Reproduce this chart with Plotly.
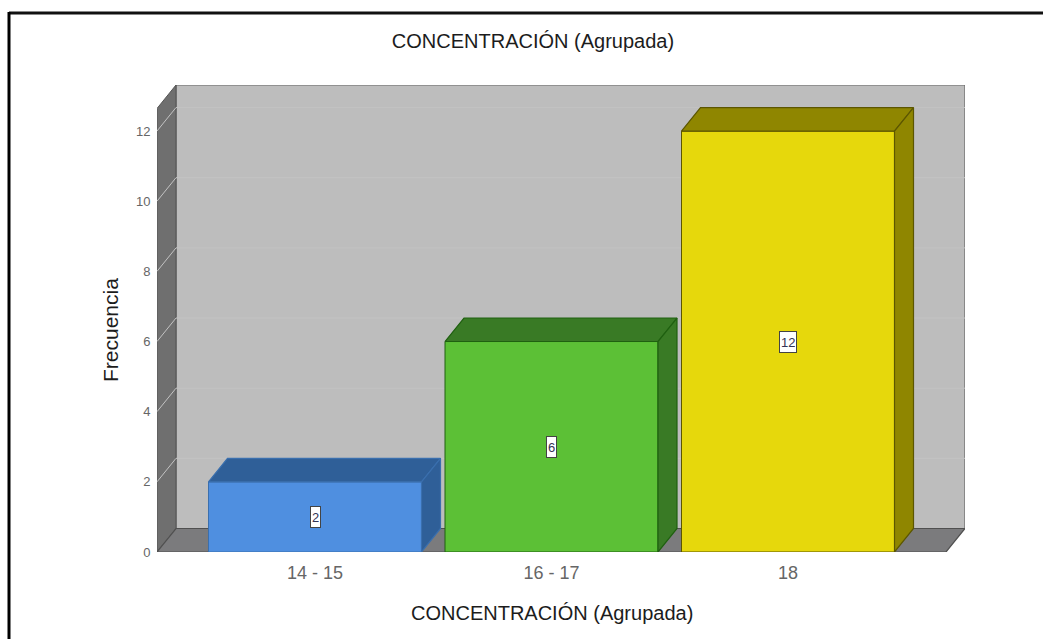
import plotly.graph_objects as go

CATEGORIES = ["14 - 15", "16 - 17", "18"]
VALUES = [2, 6, 12]
Y_TICKS = [0, 2, 4, 6, 8, 10, 12]
FRONT_COLORS = ["#4f8fe0", "#5cc036", "#e6d80c"]
SIDE_COLORS = ["#2f5f98", "#397a25", "#8f8600"]
EDGE_COLORS = ["#3a6fae", "#1f6010", "#5c5600"]
TITLE = "CONCENTRACIÓN (Agrupada)"
Y_TITLE = "Frecuencia"

W, H = 1043, 639
L, R, T, B = 157, 965, 85, 552
PX_X = 236.5
PX_Y = 35.08
X0_PX = 315
DX = 19 / PX_X
DY = 23.5 / PX_Y
BAR_W = 213 / PX_X
XMIN = (L - X0_PX) / PX_X
XMAX = (R - X0_PX) / PX_X
YMAX = (B - T) / PX_Y
X_FRONT_R = XMAX - DX
Y_TOP = YMAX - DY


def px(xp):
    return (xp - L) / (R - L)


def py(yp):
    return (B - yp) / (B - T)


def poly(xs, ys):
    return "M " + " L ".join(f"{x},{y}" for x, y in zip(xs, ys)) + " Z"


shapes = [
    # back wall
    dict(type="path", xref="x", yref="y", layer="below",
         path=poly([XMIN + DX, XMAX, XMAX, XMIN + DX], [DY, DY, YMAX, YMAX]),
         fillcolor="#bdbdbd", line=dict(color="#666666", width=1.2)),
    # left wall
    dict(type="path", xref="x", yref="y", layer="below",
         path=poly([XMIN, XMIN + DX, XMIN + DX, XMIN], [0, DY, YMAX, Y_TOP]),
         fillcolor="#6f6f6f", line=dict(color="#555555", width=1)),
    # floor
    dict(type="path", xref="x", yref="y", layer="below",
         path=poly([XMIN, X_FRONT_R, XMAX, XMIN + DX], [0, 0, DY, DY]),
         fillcolor="#7b7b7d", line=dict(color="#505050", width=1.2)),
    # page frame
    dict(type="line", xref="paper", yref="paper", x0=px(9), x1=px(W + 5), y0=py(13), y1=py(13),
         line=dict(color="#111111", width=3)),
    dict(type="line", xref="paper", yref="paper", x0=px(9), x1=px(9), y0=py(12), y1=py(H + 5),
         line=dict(color="#000000", width=3)),
]
# gridlines on walls
for v in Y_TICKS[1:]:
    shapes.append(dict(type="path", xref="x", yref="y", layer="below",
                       path=f"M {XMIN},{v} L {XMIN + DX},{v + DY} L {XMAX},{v + DY}",
                       line=dict(color="#c3c3c3", width=1)))

fig = go.Figure()
fig.add_trace(go.Bar(
    x=list(range(len(VALUES))), y=VALUES, width=BAR_W,
    marker=dict(color=FRONT_COLORS, line=dict(color=EDGE_COLORS, width=1)),
    showlegend=False, hoverinfo="skip",
))

annotations = [
    dict(text=Y_TITLE, x=px(110), y=py(330), xref="paper", yref="paper", showarrow=False,
         textangle=-90, xanchor="center", yanchor="middle",
         font=dict(family="Liberation Sans", size=21, color="#1c1c1c")),
    dict(text=TITLE, x=px(552), y=py(613), xref="paper", yref="paper", showarrow=False,
         xanchor="center", yanchor="middle",
         font=dict(family="Liberation Sans", size=20, color="#1c1c1c")),
]
hw = BAR_W / 2
for i, v in enumerate(VALUES):
    # top face
    fig.add_trace(go.Scatter(
        x=[i - hw, i + hw, i + hw + DX, i - hw + DX, i - hw],
        y=[v, v, v + DY, v + DY, v],
        mode="lines", fill="toself", fillcolor=SIDE_COLORS[i],
        line=dict(color=EDGE_COLORS[i], width=1.2),
        showlegend=False, hoverinfo="skip"))
    # right face
    fig.add_trace(go.Scatter(
        x=[i + hw, i + hw + DX, i + hw + DX, i + hw, i + hw],
        y=[0, DY, v + DY, v, 0],
        mode="lines", fill="toself", fillcolor=SIDE_COLORS[i],
        line=dict(color=EDGE_COLORS[i], width=1.2),
        showlegend=False, hoverinfo="skip"))
    annotations.append(dict(
        x=i, y=v / 2, xref="x", yref="y", text=str(v), showarrow=False,
        font=dict(family="Liberation Sans", size=13, color="#333355"),
        height=18, bgcolor="#ffffff", bordercolor="#444444", borderwidth=1, borderpad=1))

fig.update_layout(
    width=W, height=H,
    autosize=False,
    margin=dict(l=L, r=W - R, t=T, b=H - B, pad=0),
    paper_bgcolor="#ffffff",
    plot_bgcolor="rgba(0,0,0,0)",
    shapes=shapes,
    annotations=annotations,
    title=dict(text=TITLE, x=533 / W, xref="container", xanchor="center",
               y=1 - 41 / H, yanchor="middle",
               font=dict(family="Liberation Sans", size=20, color="#1c1c1c")),
    xaxis=dict(range=[XMIN, XMAX], tickmode="array", tickvals=list(range(len(CATEGORIES))),
               ticktext=CATEGORIES, showgrid=False, zeroline=False, showline=False,
               ticks="outside", ticklen=4, tickcolor="rgba(0,0,0,0)",
               tickfont=dict(family="Liberation Sans", size=18, color="#666666")),
    yaxis=dict(range=[0, YMAX], tickmode="array", tickvals=Y_TICKS,
               showgrid=False, zeroline=False, showline=False,
               ticks="outside", ticklen=3, tickcolor="rgba(0,0,0,0)",
               tickfont=dict(family="Liberation Sans", size=13, color="#666666")),
)

fig.write_html("out.html", config=dict(displayModeBar=False),
               post_script="document.body.style.margin='0';document.body.style.overflow='hidden';")
